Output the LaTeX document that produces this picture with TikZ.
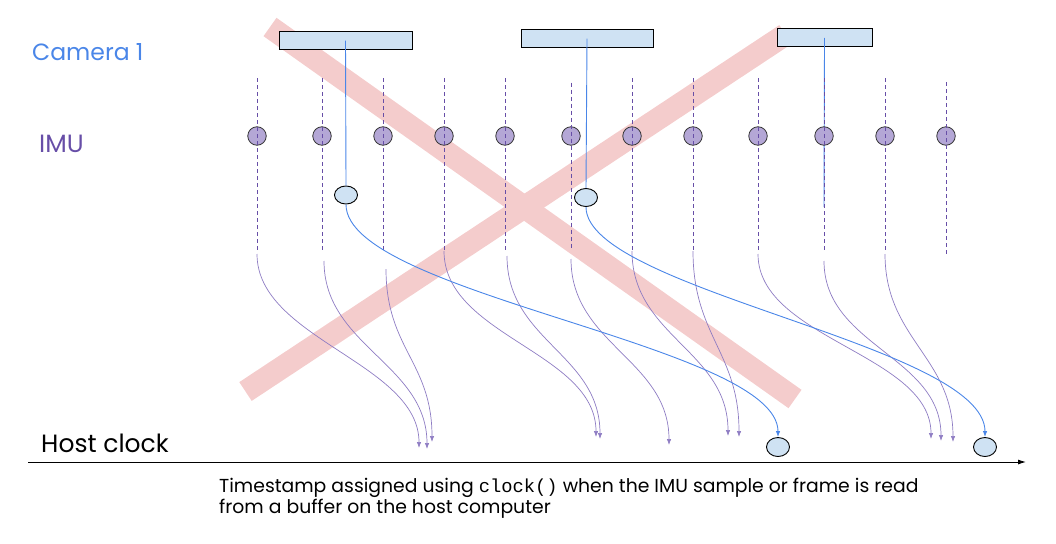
\documentclass[tikz,border=0pt]{standalone}
\usepackage{fontspec}
\setmainfont{Poppins}
\setmonofont{Liberation Mono}
\usetikzlibrary{shapes.geometric, arrows.meta, positioning, calc}
\definecolor{camblue}{HTML}{4A86E8}
\definecolor{framefill}{HTML}{CFE2F3}
\definecolor{imupurple}{HTML}{674EA7}
\definecolor{imufill}{HTML}{B4A7D6}
\definecolor{imuline}{HTML}{8E7CC3}
\definecolor{crosspink}{HTML}{F4CCCC}

\begin{document}
\begin{tikzpicture}[
        x=1pt, y=-1pt,
        cambox/.style={rectangle, draw=black, line width=1pt, fill=framefill, minimum height=18pt, inner sep=0pt},
        frameblob/.style={ellipse, draw=black, line width=0.9pt, fill=framefill, minimum width=23pt, minimum height=18pt, inner sep=0pt},
        imudot/.style={circle, draw=black!80, line width=0.8pt, fill=imufill, minimum size=18.5pt, inner sep=0pt},
        imutick/.style={imupurple, line width=0.8pt, dash pattern=on 4pt off 3pt},
        camline/.style={camblue, line width=0.9pt},
        arrow/.style={->, >={Latex[length=6pt,width=4.5pt]}, line width=0.7pt},
        imuarrow/.style={arrow, imuline},
        camarrow/.style={arrow, camblue, line width=0.9pt},
        crossbar/.style={crosspink, line width=22.5pt},
        rowlabel/.style={font=\fontsize{25}{30}\selectfont, inner sep=0pt, anchor=base west}
    ]
        \useasboundingbox (0,0) rectangle (1056,543);
        % the big cross behind everything
        \draw[crossbar] (270,27) -- (795,399);
        \draw[crossbar] (245.5,391.5) -- (785.5,34.5);

        \node[rowlabel, camblue, font=\fontsize{23.5}{30}\selectfont] (camlabel) at (32,60) {Camera 1};
        \node[rowlabel, imupurple] (imulabel) at (39,152) {IMU};
        \node[rowlabel, black] (hostlabel) at (41,452) {Host clock};

        \node[cambox, minimum width=133pt] (c1) at (345.5,40.7) {};
        \node[cambox, minimum width=132pt] (c2) at (587,38.7) {};
        \node[cambox, minimum width=95pt] (c3) at (824.5,38) {};

        \node[frameblob] (f1) at (346,195) {};
        \node[frameblob] (f2) at (586,197.5) {};
        \node[frameblob, minimum height=19pt] (f3) at (778,447) {};
        \node[frameblob, minimum height=19pt] (f4) at (985,447) {};
        \coordinate (c3end) at (824,207);
        \draw[camline] (c1.center) -- (f1.north);
        \draw[camline] (c2.center) -- (f2.north);
        \draw[camline] (c3.center) -- (c3end);

        % IMU samples
        \node[imudot] (i1) at (257,136) {};
        \node[imudot] (i2) at (322,136) {};
        \node[imudot] (i3) at (383,136) {};
        \node[imudot] (i4) at (444,136) {};
        \node[imudot] (i5) at (505,136) {};
        \node[imudot] (i6) at (571,136) {};
        \node[imudot] (i7) at (632,136) {};
        \node[imudot] (i8) at (693,136) {};
        \node[imudot] (i9) at (758,136) {};
        \node[imudot] (i10) at (824,136) {};
        \node[imudot] (i11) at (885,136) {};
        \node[imudot] (i12) at (946,136) {};
        \draw[imutick] (i1) ++(0,-58) -- ++(0,173);
        \draw[imutick] (i2) ++(0,-58) -- ++(0,173);
        \draw[imutick] (i3) ++(0,-58) -- ++(0,173);
        \draw[imutick] (i4) ++(0,-58) -- ++(0,173);
        \draw[imutick] (i5) ++(0,-58) -- ++(0,173);
        \draw[imutick] (i6) ++(0,-53.5) -- ++(0,167.5);
        \draw[imutick] (i7) ++(0,-58) -- ++(0,173);
        \draw[imutick] (i8) ++(0,-58) -- ++(0,173);
        \draw[imutick] (i9) ++(0,-58) -- ++(0,173);
        \draw[imutick] (i10) ++(0,-58) -- ++(0,173);
        \draw[imutick] (i11) ++(0,-58) -- ++(0,173);
        \draw[imutick] (i12) ++(0,-54) -- ++(0,174);

        % where each sample is read on the host
        \coordinate (h1) at (419,448);
        \coordinate (h2) at (427,449);
        \coordinate (h3) at (432,442);
        \coordinate (h4) at (596,437);
        \coordinate (h5) at (600,439);
        \coordinate (h6) at (669,445);
        \coordinate (h7) at (728,436);
        \coordinate (h8) at (739,437);
        \coordinate (h9) at (931,439);
        \coordinate (h10) at (941,441);
        \coordinate (h11) at (953,442);
        \draw[imuarrow] (i1) ++(0,118) .. controls +(0,85) and +(0,-85) .. (h1);
        \draw[imuarrow] (i2) ++(2,125) .. controls +(0,85) and +(0,-85) .. (h2);
        \draw[imuarrow] (i3) ++(3,133) .. controls +(0,80) and +(0,-80) .. (h3);
        \draw[imuarrow] (i4) ++(0,115) .. controls +(0,85) and +(0,-85) .. (h4);
        \draw[imuarrow] (i5) ++(2,120) .. controls +(0,85) and +(0,-85) .. (h5);
        \draw[imuarrow] (i6) ++(0,123) .. controls +(0,85) and +(0,-85) .. (h6);
        \draw[imuarrow] (i7) ++(0,115) .. controls +(0,85) and +(0,-85) .. (h7);
        \draw[imuarrow] (i8) ++(0,115) .. controls +(0,85) and +(0,-85) .. (h8);
        \draw[imuarrow] (i9) ++(0,118) .. controls +(0,85) and +(0,-85) .. (h9);
        \draw[imuarrow] (i10) ++(0,125) .. controls +(0,85) and +(0,-85) .. (h10);
        \draw[imuarrow] (i11) ++(0,118) .. controls +(0,85) and +(0,-85) .. (h11);

        % frames read on the host
        \draw[camarrow] (f1.south) .. controls +(0,90) and +(0,-92) .. (f3.north);
        \draw[camarrow] (f2.south) .. controls +(0,83) and +(0,-92) .. (f4.north);

        \coordinate (t0) at (28,462);
        \coordinate (t1) at (1026,462);
        \draw[->, >={Latex[length=8pt,width=5pt]}, line width=0.9pt] (t0) -- (t1);

        \node[anchor=north west, align=left, inner sep=0pt, font=\fontsize{18.8}{21}\selectfont] (note) at (219,477.5) {Timestamp assigned using \texttt{clock()} when the IMU sample or frame is read\\from a buffer on the host computer};
    \end{tikzpicture}
\end{document}
